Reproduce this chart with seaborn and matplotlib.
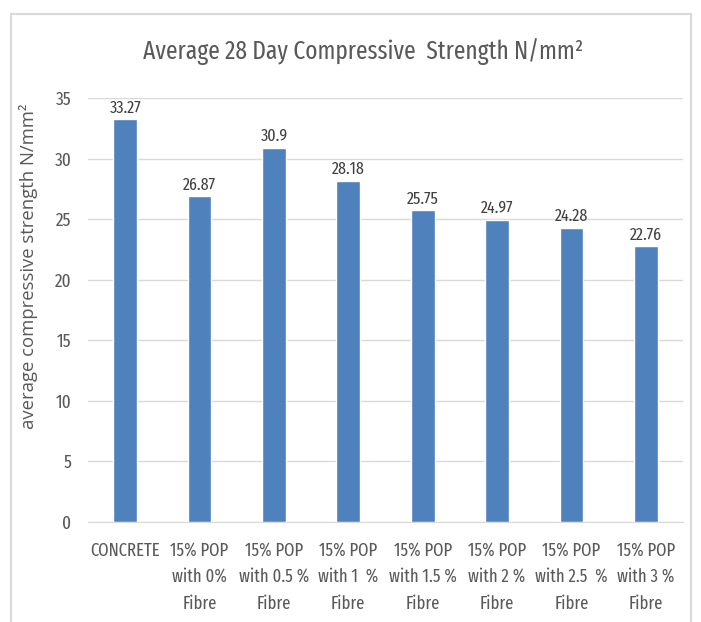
import seaborn as sns
import matplotlib.pyplot as plt
from matplotlib.patches import Rectangle
import pandas as pd

# dados
categorias = ['CONCRETE', '15% POP\nwith 0%\nFibre', '15% POP\nwith 0.5 %\nFibre',
              '15% POP\nwith 1  %\nFibre', '15% POP\nwith 1.5 %\nFibre',
              '15% POP\nwith 2 %\nFibre', '15% POP\nwith 2.5  %\nFibre',
              '15% POP\nwith 3 %\nFibre']
resistencia = [33.27, 26.87, 30.9, 28.18, 25.75, 24.97, 24.28, 22.76]
rotulos = ['33.27', '26.87', '30.9', '28.18', '25.75', '24.97', '24.28', '22.76']
yticks = [0, 5, 10, 15, 20, 25, 30, 35]

df = pd.DataFrame({'cat': categorias, 'val': resistencia})

sns.set_style('white')
narrow = ['Fira Sans Extra Condensed', 'Roboto Condensed', 'DejaVu Sans']
cinza = '#595959'

fig = plt.figure(figsize=(7.01, 6.22), dpi=100)
ax = fig.add_axes([88 / 701, 1 - 522 / 622, 595 / 701, 424 / 622])

sns.barplot(data=df, x='cat', y='val', color='#4F81BD', saturation=1,
            width=0.32, ax=ax)

for i, (v, r) in enumerate(zip(resistencia, rotulos)):
    ax.text(i, v + 0.25, r, ha='center', va='bottom', fontsize=12.5,
            family=narrow, color='#404040')

ax.set_ylim(0, 35)
ax.set_yticks(yticks)
ax.set_yticklabels([str(t) for t in yticks], family=narrow, fontsize=13.5, color=cinza)
ax.set_xticks(range(len(categorias)))
ax.set_xticklabels(categorias, family=narrow, fontsize=13, color=cinza,
                   linespacing=1.62)
ax.tick_params(axis='x', pad=14, length=0)
ax.tick_params(axis='y', pad=12, length=0)
ax.grid(axis='y', color='#D9D9D9', linewidth=1)
ax.set_axisbelow(True)
for s in ['top', 'right', 'left']:
    ax.spines[s].set_visible(False)
ax.spines['bottom'].set_color('#D9D9D9')
ax.set_xlabel('')
ax.set_ylabel('average compressive strength N/mm²', fontsize=13.3,
              color=cinza, family=['Open Sans', 'DejaVu Sans'])
ax.yaxis.set_label_coords(-50 / 595, (522 - 266) / 424)

fig.text(363 / 701, 1 - 52 / 622, 'Average 28 Day Compressive  Strength N/mm²',
         ha='center', va='center', fontsize=18.3, color=cinza, family=narrow)

# moldura do gráfico
fig.patches.append(Rectangle((11 / 701, -0.05), 680 / 701, 1.05 - 14 / 622,
                             transform=fig.transFigure, fill=False,
                             edgecolor='#D9D9D9', linewidth=1.5))

fig.savefig('out.png', dpi=100, facecolor='white')
